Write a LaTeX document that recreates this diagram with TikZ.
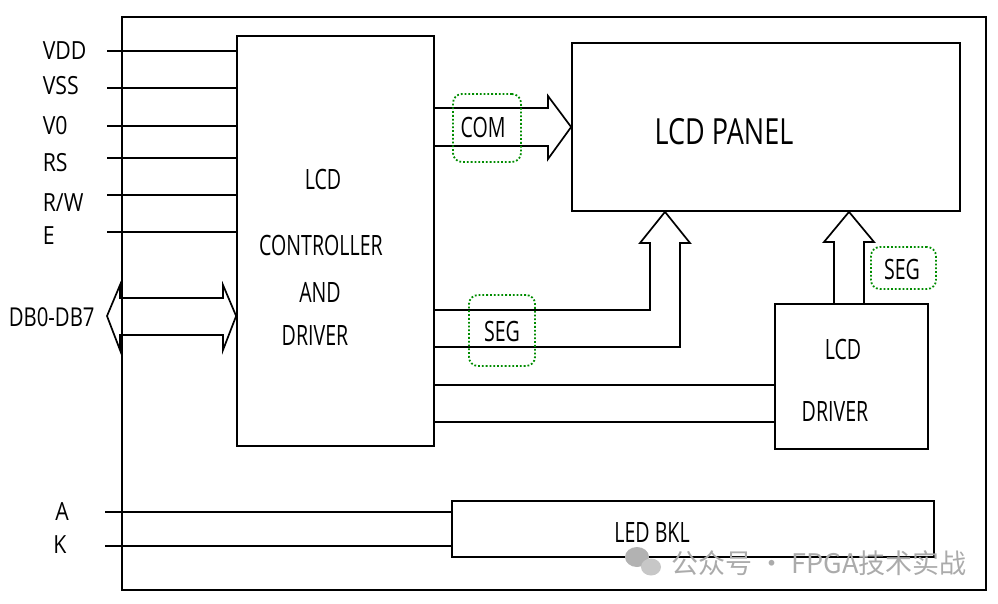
\documentclass[tikz,border=0pt]{standalone}
\usepackage{fontspec}
\setmainfont[FakeStretch=0.70]{Open Sans}
\newfontfamily\sidefont[FakeStretch=0.85]{Open Sans}
\newfontfamily\panelfont[FakeStretch=0.75]{Open Sans}
\newfontfamily\cjk{Noto Sans CJK SC}
\begin{document}
\begin{tikzpicture}[x=1pt,y=-1pt,line width=1.7pt,
  box/.style={draw,line width=1.7pt,inner sep=0pt},
  lbl/.style={font=\fontsize{28}{32}\selectfont,inner sep=0pt},
  side/.style={font=\sidefont\fontsize{25}{28}\selectfont,inner sep=0pt},
  tag/.style={draw=green!55!black,dotted,rounded corners=9pt,line width=1.8pt,inner sep=0pt},
  wire/.style={line width=1.7pt,line join=miter}]
\useasboundingbox (0,0) rectangle (998,603);
% boxes
\node[box,minimum width=864pt,minimum height=573pt] (outer) at (554,303.5) {};
\node[box,minimum width=197pt,minimum height=410pt] (ctrl) at (335.5,241) {};
\node[box,minimum width=388pt,minimum height=168pt] (panel) at (766,127) {};
\node[box,minimum width=153pt,minimum height=145pt] (drv) at (851.5,376.5) {};
\node[box,minimum width=482pt,minimum height=56pt] (led) at (693,529) {};
% box texts
\node[lbl] (t1) at (323,179) {LCD};
\node[lbl] (t2) at (321,245) {CONTROLLER};
\node[lbl] (t3) at (320,292) {AND};
\node[lbl] (t4) at (315,335) {DRIVER};
\node[lbl,font=\panelfont\fontsize{36}{40}\selectfont] (tp) at (724,132) {LCD PANEL};
\node[lbl] (td1) at (843,349) {LCD};
\node[lbl] (td2) at (835,411) {DRIVER};
\node[lbl] (tl) at (652,532) {LED BKL};
% left signals
\foreach \n/\t/\y/\ty in {vdd/VDD/51/51,vss/VSS/88/86,vo/V0/126/126,rs/RS/158/163,rw/R\slash W/195/203,e/E/232/236}{
  \node[side,anchor=west] (l\n) at (42,\ty) {\t};
  \coordinate (s\n) at (107,\y);
  \draw[wire] (s\n) -- (s\n -| ctrl.west);
}
% data bus
\node[side,font=\sidefont\fontsize{26}{28}\selectfont,anchor=west,xscale=0.92] (ldb) at (8,317) {DB0-DB7};
\coordinate (dbl) at (107,316);
\draw[wire] (dbl) -- (120,285) -- (120,298) -- (223,298) -- (223,285) -- (ctrl.west |- 0,316)
  -- (223,350) -- (223,335) -- (120,335) -- (120,350) -- cycle;
% COM arrow
\draw[wire] (ctrl.east |- 0,108) -- (548,108) -- (548,96) -- (panel.west |- 0,127)
  -- (548,159) -- (548,146) -- (ctrl.east |- 0,146);
% SEG arrow to panel
\draw[wire] (ctrl.east |- 0,310) -- (650,310) -- (650,243) -- (640,243) -- (panel.south -| 665,0)
  -- (690,243) -- (680,243) -- (680,347) -- (ctrl.east |- 0,347);
% driver arrow to panel
\draw[wire] (drv.north -| 834,0) -- (834,242) -- (824,242) -- (panel.south -| 849,0)
  -- (874,242) -- (864,242) -- (drv.north -| 864,0);
% controller to driver
\draw[wire] (ctrl.east |- 0,385) -- (drv.west |- 0,385);
\draw[wire] (ctrl.east |- 0,422) -- (drv.west |- 0,422);
% backlight
\node[side] (la) at (62,512) {A};
\node[side] (lk) at (60,545) {K};
\coordinate (sa) at (105,512);
\coordinate (sk) at (105,546);
\draw[wire] (sa) -- (sa -| led.west);
\draw[wire] (sk) -- (sk -| led.west);
% tags
\node[tag,minimum width=68pt,minimum height=68pt] (gcom) at (487,128) {};
\node[lbl] (com) at (483,127) {COM};
\node[tag,minimum width=66pt,minimum height=71pt] (gseg1) at (502,330.5) {};
\node[lbl] (seg1) at (502,331) {SEG};
\node[tag,minimum width=65pt,minimum height=42pt] (gseg2) at (903.5,268) {};
\node[lbl] (seg2) at (902,269) {SEG};
% watermark
\fill[black!30] (637,557) ellipse (12pt and 10pt);
\fill[black!22] (651,567) ellipse (10pt and 8.5pt);
\node[font=\cjk\fontsize{27}{30}\selectfont,text=black!33,anchor=west,inner sep=0pt] (wm) at (671,563) {公众号 · FPGA技术实战};
\end{tikzpicture}
\end{document}
